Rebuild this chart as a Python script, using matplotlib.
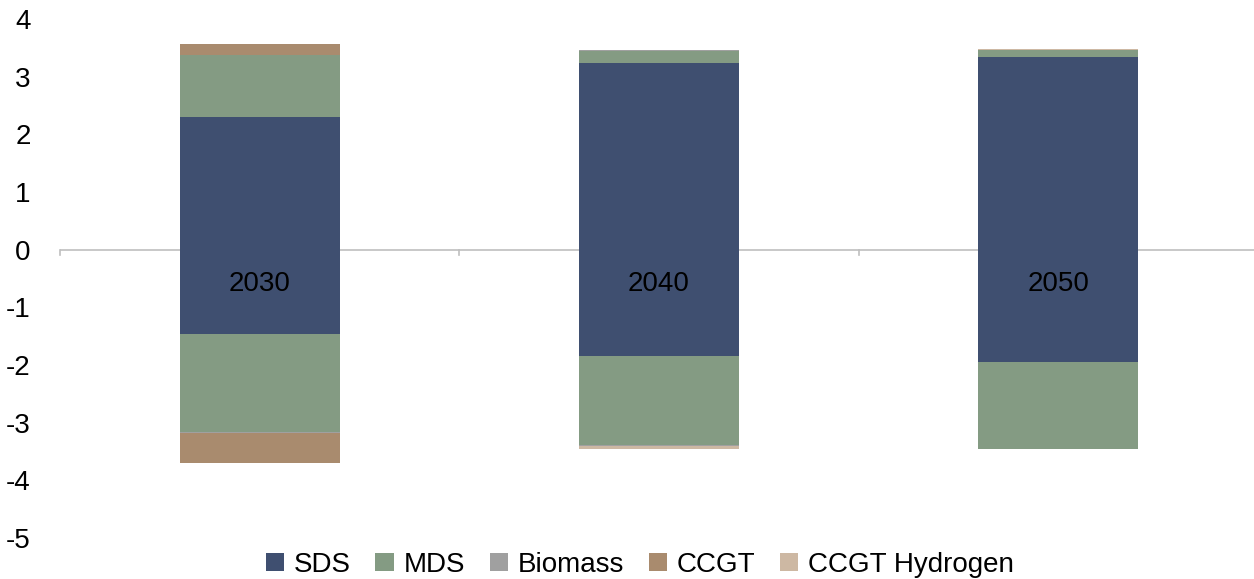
import matplotlib.pyplot as plt
import numpy as np

plt.rcParams['font.family'] = ['Liberation Sans', 'DejaVu Sans']
plt.rcParams['axes.unicode_minus'] = False

years = ['2030', '2040', '2050']
series = ['SDS', 'MDS', 'Biomass', 'CCGT', 'CCGT Hydrogen']
colors = ['#3F4F70', '#849B83', '#A0A0A0', '#A98B6E', '#CDB8A3']

# positive stacks
pos_sds = [2.30, 3.24, 3.34]
pos_mds = [1.08, 0.21, 0.13]
pos_biomass = [0.00, 0.02, 0.00]
pos_ccgt = [0.19, 0.00, 0.00]
pos_h2 = [0.00, 0.00, 0.01]

# negative stacks
neg_sds = [-1.46, -1.84, -1.94]
neg_mds = [-1.71, -1.54, -1.51]
neg_biomass = [-0.01, -0.02, 0.00]
neg_ccgt = [-0.52, 0.00, 0.00]
neg_h2 = [0.00, -0.05, 0.00]

pos = [pos_sds, pos_mds, pos_biomass, pos_ccgt, pos_h2]
neg = [neg_sds, neg_mds, neg_biomass, neg_ccgt, neg_h2]

fig = plt.figure(figsize=(12.54, 5.79), dpi=100)
ax = fig.add_axes([60 / 1254, 41 / 579, 1198 / 1254, 519 / 579])

x = np.arange(len(years))
width = 0.4
bot_p = np.zeros(len(years))
bot_n = np.zeros(len(years))
for name, c, p, n in zip(series, colors, pos, neg):
    ax.bar(x, p, width, bottom=bot_p, color=c, label=name, zorder=2)
    ax.bar(x, n, width, bottom=bot_n, color=c, zorder=2)
    bot_p += np.array(p)
    bot_n += np.array(n)

ax.set_xlim(-0.5, 2.5)
ax.set_ylim(-5, 4)
ax.set_yticks(range(-5, 5))
ax.tick_params(axis='y', length=0, labelsize=20, pad=21)
ax.set_xticks([])
for s in ax.spines.values():
    s.set_visible(False)

# zero line with category dividers
ax.axhline(0, color='#BFBFBF', lw=1.2, zorder=1)
for b in [-0.5, 0.5, 1.5, 2.5]:
    ax.plot([b, b], [0, -0.1], color='#BFBFBF', lw=1.2, zorder=1, clip_on=False)

for xi, yr in zip(x, years):
    ax.text(xi, -0.6, yr, ha='center', va='center', fontsize=20, zorder=3)

ax.legend(loc='lower center', bbox_to_anchor=(0.484, -0.125), ncol=5, frameon=False,
          fontsize=20, handlelength=0.65, handleheight=0.65, handletextpad=0.35,
          columnspacing=0.9)

fig.savefig('out.png', dpi=100)
